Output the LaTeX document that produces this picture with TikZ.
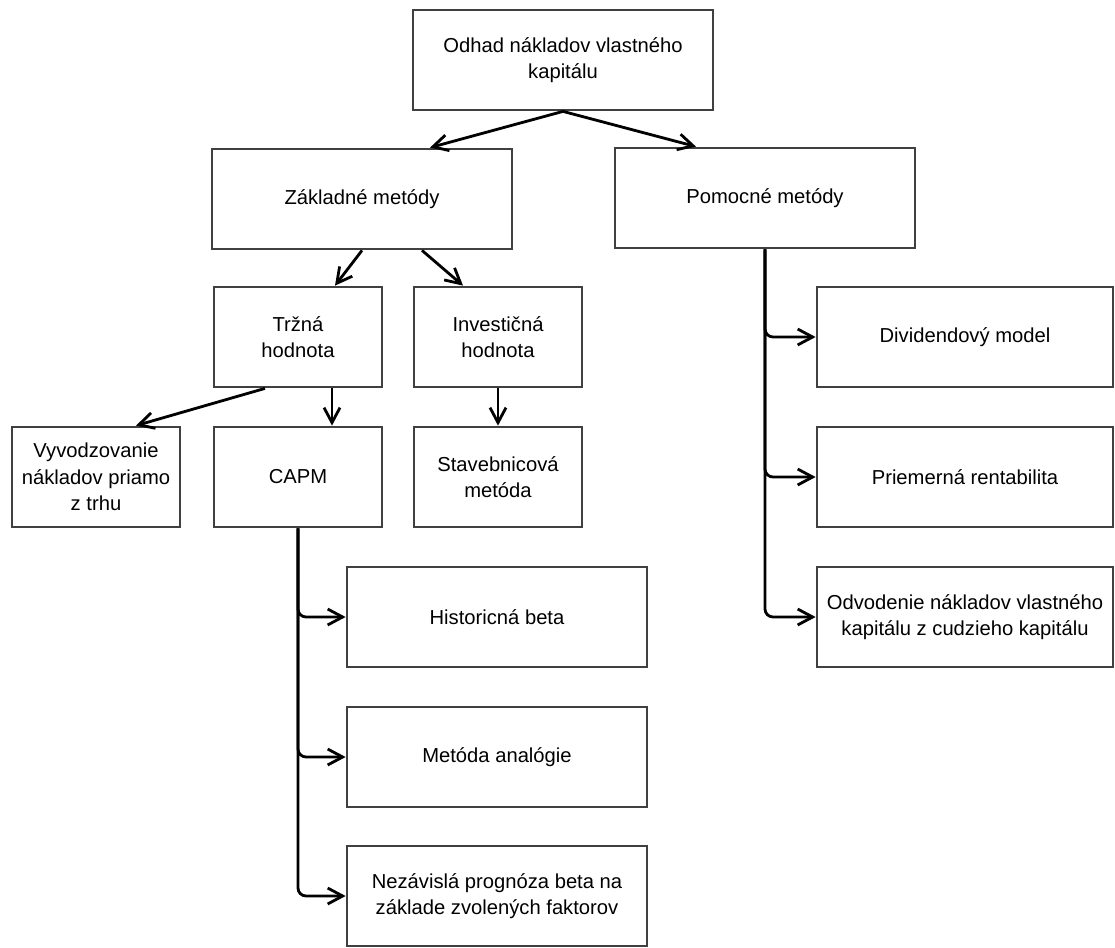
\documentclass[tikz,border=0pt]{standalone}
\usepackage{fontspec}
\setmainfont{Liberation Sans}
\usetikzlibrary{arrows.meta,calc}

\begin{document}
\begin{tikzpicture}[x=0.02cm,y=-0.02cm,
        box/.style={draw=black!75,line width=1.6pt,minimum height=2cm,align=center,inner sep=2pt,font=\fontsize{11.5}{15}\selectfont},
        wide/.style={box,minimum width=6cm},
        narrow/.style={box,minimum width=3.36cm},
        side/.style={box,minimum width=5.92cm},
        link/.style={-{Straight Barb[length=3mm,width=3.2mm]},line width=1.6pt,rounded corners=0.16cm}]
        \useasboundingbox (0,0) rectangle (1115,947);

        \node[wide] (odhad) at (563,60) {Odhad nákladov vlastného\\kapitálu};
        \node[wide] (zaklad) at (362,199) {Základné metódy};
        \node[wide] (pomoc) at (765,198) {Pomocné metódy};

        \node[narrow] (trzna) at (298,337) {Tržná\\hodnota};
        \node[narrow] (invest) at (498,337) {Investičná\\hodnota};
        \node[narrow] (vyvod) at (96,477) {Vyvodzovanie\\nákladov priamo\\z trhu};
        \node[narrow] (capm) at (298,477) {CAPM};
        \node[narrow] (staveb) at (498,477) {Stavebnicová\\metóda};

        \node[wide] (hist) at (497,617) {Historicná beta};
        \node[wide] (analog) at (497,757) {Metóda analógie};
        \node[wide] (nezav) at (497,896) {Nezávislá prognóza beta na\\základe zvolených faktorov};

        \node[side] (divid) at (965,337) {Dividendový model};
        \node[side] (priem) at (965,477) {Priemerná rentabilita};
        \node[side] (odvod) at (965,617) {Odvodenie nákladov vlastného\\kapitálu z cudzieho kapitálu};

        \draw[link] (odhad.south) -- ($(zaklad.north)+(68,0)$);
        \draw[link] (odhad.south) -- ($(pomoc.north)+(-69,0)$);
        \draw[link] (zaklad.south) -- ($(trzna.north)+(37,0)$);
        \draw[link] ($(zaklad.south)+(60,0)$) -- ($(invest.north)+(-35,0)$);
        \draw[link] ($(trzna.south)+(-33,0)$) -- ($(vyvod.north)+(40,0)$);
        \draw[link] ($(trzna.south)+(34,0)$) -- ($(capm.north)+(34,0)$);
        \draw[link] (invest.south) -- (staveb.north);

        \foreach \t in {hist,analog,nezav}
            \draw[link] (capm.south) |- (\t.west);
        \foreach \t in {divid,priem,odvod}
            \draw[link] (pomoc.south) |- (\t.west);
    \end{tikzpicture}
\end{document}
